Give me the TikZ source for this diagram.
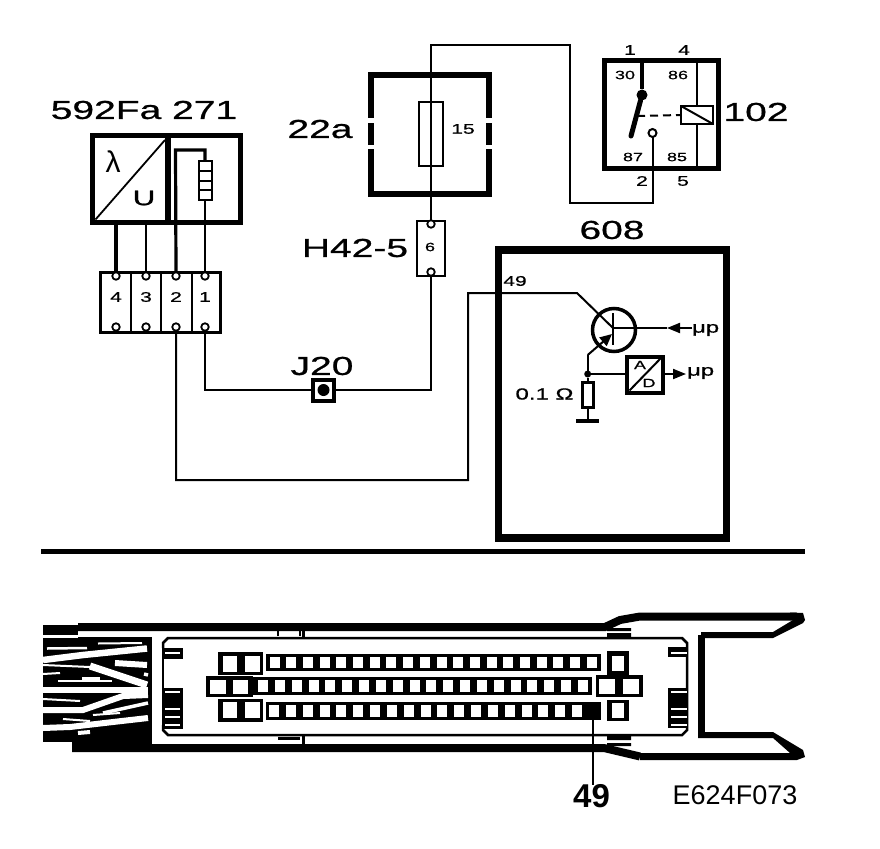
\documentclass[tikz,border=0pt]{standalone}
\usepackage{fontspec}
\setmainfont{Liberation Sans}
\newfontfamily\widefont[FakeStretch=1.5,FakeBold=0.8]{Liberation Sans}
\usetikzlibrary{arrows.meta,positioning}

\begin{document}
\begin{tikzpicture}[
    x=1pt, y=-1pt,
    every node/.style={inner sep=0pt, outer sep=0pt},
    partlabel/.style={font=\widefont\fontsize{26}{26}\selectfont},
    pinlabel/.style={font=\widefont\fontsize{14}{14}\selectfont},
    smalllabel/.style={font=\widefont\fontsize{12}{12}\selectfont},
    heavybox/.style={rectangle, draw, line width=6pt},
    thinbox/.style={rectangle, draw, line width=2pt},
    wire/.style={line width=2pt},
    fatwire/.style={line width=3.2pt},
    pin/.style={circle, draw, fill=white, line width=1.8pt, minimum size=7.5pt},
    arrow/.style={-{Triangle[length=13pt,width=10pt]}, line width=2pt},
    band/.style={line width=8pt},
    streak/.style={white, line width=#1}
]
    \fill[white] (0,0) rectangle (880,848);
    \useasboundingbox (0,0) rectangle (880,848);

    % Lambda probe
    \node[partlabel] (probelabel) at (144,110) {592Fa 271};
    \node[rectangle, draw, line width=5.5pt, minimum width=148pt, minimum height=87pt] (probe) at (166.5,179) {};
    \coordinate (probesplit) at (168,179);
    \draw[line width=5.5pt] (probesplit |- probe.north) -- (probesplit |- probe.south);
    \draw[line width=1.8pt] (probe.south west) ++(3,-3) -- (165,140);
    \node[font=\fontsize{30}{30}\selectfont] (lambda) at (113,162) {λ};
    \node[font=\widefont\fontsize{21}{21}\selectfont] (ulabel) at (144,198) {U};

    % Heater
    \node[thinbox, minimum width=13pt, minimum height=39pt] (heater) at (205,180.5) {};
    \foreach \y in {171,180.5,190} {
        \draw[wire] (heater.west |- 0,\y) -- (heater.east |- 0,\y);
    }

    % Connector block
    \node[rectangle, draw, line width=2.2pt, minimum width=120pt, minimum height=60pt] (block) at (160.5,302.5) {};
    \foreach \n/\x in {4/116,3/146,2/176,1/205} {
        \node[pin] (ptop\n) at (\x,276) {};
        \node[pin] (pbot\n) at (\x,327) {};
        \node[pinlabel] (cell\n) at (\x,297) {\n};
    }
    \foreach \x in {131,161,192} {
        \draw[wire] (\x,272) -- (\x,332);
    }

    % Fuse box
    \node[partlabel] (fuselabel) at (320,129) {22a};
    \node[heavybox, minimum width=118pt, minimum height=119pt] (fusebox) at (430,134.5) {};
    \fill[white] (360,118) rectangle (376,123);
    \fill[white] (360,145) rectangle (376,149);
    \fill[white] (484,118) rectangle (500,123);
    \fill[white] (484,145) rectangle (500,149);
    \node[thinbox, minimum width=24pt, minimum height=63pt] (fuse) at (430.5,134) {};
    \node[pinlabel] (fuseno) at (463,129) {15};

    % Connector H42-5
    \node[partlabel] (hlabel) at (355,248) {H42-5};
    \node[thinbox, minimum width=28pt, minimum height=55pt] (hconn) at (431,248) {};
    \node[pin] (ptop6) at (431,224) {};
    \node[pin] (pbot6) at (431,272) {};
    \node[smalllabel] (hno) at (430,247) {6};

    % Junction J20
    \node[partlabel] (jlabel) at (322,366) {J20};
    \node[rectangle, draw, line width=4pt, minimum width=21pt, minimum height=21pt] (j20) at (323.5,390) {};
    \node[circle, fill, minimum size=12pt] (j20dot) at (j20) {};

    % Relay
    \node[rectangle, draw, line width=5pt, minimum width=114pt, minimum height=107pt] (relay) at (661,114.5) {};
    \node[partlabel] (relaylabel) at (756,112) {102};
    \node[pinlabel] (r1) at (630,50) {1};
    \node[pinlabel] (r4) at (684,50) {4};
    \node[pinlabel] (r2) at (642,181) {2};
    \node[pinlabel] (r5) at (683,181) {5};
    \node[smalllabel] (r30) at (625,75) {30};
    \node[smalllabel] (r86) at (678,75) {86};
    \node[smalllabel] (r87) at (633,157) {87};
    \node[smalllabel] (r85) at (677,157) {85};
    \node[circle, fill, minimum size=11pt] (pivot) at (642,95) {};
    \coordinate (armend) at (631,136);
    \node[circle, draw, fill=white, line width=2pt, minimum size=8pt] (contact) at (652.5,133) {};
    \node[rectangle, draw, line width=2pt, minimum width=32pt, minimum height=18pt] (coil) at (697,115) {};
    \coordinate (armmid) at (637,116);

    % Lines of the relay
    \draw[fatwire] (pivot) -- (pivot |- relay.north);
    \draw[line width=5pt, line cap=round] (pivot) -- (armend);
    \draw[wire, dashed, dash pattern=on 8pt off 5pt] (armmid) -- (coil.west);
    \draw[wire] (coil.north west) -- (coil.south east);
    \draw[wire] (coil.north) -- (coil.north |- relay.north);
    \draw[wire] (coil.south) -- (coil.south |- relay.south);

    % ECU
    \node[partlabel] (eculabel) at (612,230) {608};
    \node[rectangle, draw, line width=7.5pt, minimum width=228pt, minimum height=288pt] (ecu) at (612.5,394) {};
    \node[pinlabel] (ecupin) at (515,281) {49};
    \node[circle, draw, line width=3.5pt, minimum size=43pt] (trans) at (614,330) {};
    \draw[line width=1.8pt] (613,313) coordinate (bartop) -- (613,345) coordinate (barbot);
    \coordinate (collector) at (613,328);
    \coordinate (emitter) at (612,334);
    \coordinate (emknee) at (587.7,355);
    \node[circle, fill, minimum size=7pt] (sense) at (587.7,374) {};
    \node[rectangle, draw, line width=2.6pt, minimum width=11pt, minimum height=25pt] (shunt) at (587.7,395) {};
    \node[fill, minimum width=23pt, minimum height=4pt] (gnd) at (587.7,421) {};
    \node[font=\widefont\fontsize{16}{16}\selectfont] (ohm) at (544.5,394) {0.1 Ω};
    \node[rectangle, draw, line width=4pt, minimum width=36pt, minimum height=36pt] (adc) at (644.5,374.5) {};
    \draw[wire] (adc.south west) ++(3,-2) -- (661,358);
    \node[smalllabel] (adca) at (640,365) {A};
    \node[smalllabel] (adcd) at (649,383) {D};
    \node[font=\widefont\fontsize{16}{16}\selectfont, anchor=west] (muin) at (692,330) {μp};
    \node[font=\widefont\fontsize{16}{16}\selectfont, anchor=west] (muout) at (687,373) {μp};
    \coordinate (inarrow) at (667,328);
    \coordinate (outarrow) at (686,374);

    % Lines of the ECU
    \draw[arrow] (muin.west |- inarrow) -- (inarrow);
    \draw[wire] (inarrow) -- (collector);
    \draw[arrow] (adc.east |- outarrow) -- (outarrow);
    \draw[arrow, -{Triangle[length=12pt,width=11pt]}] (emknee) -- (emitter);
    \draw[wire] (emknee) -- (sense);
    \draw[wire] (sense) -- (adc.west |- sense);
    \draw[wire] (sense) -- (shunt.north);
    \draw[wire] (shunt.south) -- (gnd.north);

    % Wires between the parts
    \draw[fatwire] (ptop4.north) -- (ptop4.north |- probe.south);
    \draw[wire] (ptop3.north) -- (ptop3.north |- probe.south);
    \draw[fatwire] (ptop2.north) -- (175.5,150) coordinate (heatbend) -- (205,150) coordinate (heattop) -- (heater.north);
    \draw[wire] (heater.south) -- (ptop1.north);
    \draw[wire] (pbot1.south) |- (j20.west);
    \draw[wire] (j20.east) -| (pbot6.south);
    \coordinate (relaytop) at (570,45);
    \coordinate (relaybot) at (570,203);
    \draw[wire] (ptop6.north) |- (relaytop) -- (relaybot) -| (contact.south);
    \coordinate (ecubot) at (468,480);
    \coordinate (ecutop) at (468,293);
    \coordinate (ecuknee) at (577,293);
    \draw[wire] (pbot2.south) |- (ecubot) -- (ecutop) -- (ecuknee) -- (collector);

    % Separator
    \draw[line width=5pt] (41,551) coordinate (sepleft) -- (805,551) coordinate (sepright);

    % Plug: shell
    \draw[band] (78,627) -- (605,627) -- (620,620) -- (640,616.5) -- (797,616.5);
    \fill (790,612.5) -- (803,613) -- (805,620) -- (803,623) -- (773,638) -- (701,638) -- (701,632) -- (773,632) -- (793,620) -- cycle;
    \draw[line width=7pt] (701,635) -- (701,735);
    \fill (698,732) -- (773,732) -- (803,750) -- (805,757) -- (797,760) -- (640,760) -- (640,753) -- (790,753) -- (773,738) -- (698,738) -- cycle;
    \draw[band] (72,748) -- (604,748) -- (640,756.5);
    \draw[line width=2.5pt] (163,648) -- (163,643) -- (168,638) -- (682,638) -- (687,643) -- (687,730) -- (682,735) -- (168,735) -- (163,730) -- (163,725);
    \draw[line width=2.5pt] (163,648) -- (163,725);

    % Plug: tabs
    \draw[line width=2pt] (278,636) -- (278,630) (300,636) -- (300,630);
    \draw[line width=3pt] (303,630) -- (303,637);
    \fill (607,628) rectangle (631,631) (607,633) rectangle (631,637);
    \fill (607,736) rectangle (631,740) (607,743) rectangle (631,746);
    \fill (278,737) rectangle (300,740);
    \draw[line width=3pt] (303,736) -- (303,745);

    % Plug: combs
    \fill (163,648) rectangle (183,659);
    \fill (163,688) rectangle (183,729);
    \fill (668,647) rectangle (687,657);
    \fill (668,688) rectangle (687,728);
    \foreach \y in {653,692,709,717,725} {
        \draw[white, line width=1.3pt] (165,\y) -- (180,\y);
        \draw[white, line width=1.3pt] (671,\y) -- (687,\y);
    }

    % Plug: big pins
    \fill (218,652) rectangle (263,675);
    \fill (206,676) rectangle (253,697);
    \fill (218,699) rectangle (263,722);
    \fill (607,651) rectangle (629,675);
    \fill (596,675) rectangle (643,697);
    \fill (607,700) rectangle (629,721);
    \foreach \a/\b/\c/\d in {223/656/237/672, 245/656/260/672, 210/680/226/694, 233/680/248/694, 223/702/237/718, 245/702/260/718, 612/656/624/671, 599/679/615/694, 623/679/639/694, 612/703/624/718} {
        \fill[white] (\a,\b) rectangle (\c,\d);
    }

    % Plug: rows of pins
    \fill (266,654) rectangle (601,671);
    \fill (253,677) rectangle (592,695);
    \fill (266,702) rectangle (601,720);
    \foreach \i in {0,...,19} {
        \fill[white] (269.5+16.7*\i,657) rectangle (279.5+16.7*\i,668);
        \fill[white] (258+16.84*\i,680) rectangle (268+16.84*\i,692);
    }
    \foreach \i in {0,...,18} {
        \fill[white] (269+16.84*\i,705) rectangle (279+16.84*\i,717);
    }

    % Plug: wires
    \fill (43,625) rectangle (78,635);
    \fill (43,638) rectangle (152,740);
    \fill (78,637) rectangle (152,640);
    \fill (72,738) rectangle (152,744);
    \fill (43,733) rectangle (72,742);
    \draw[streak=2.5pt] (47,648.5) -- (87,648);
    \draw[streak=2pt] (98,643.5) -- (142,643);
    \draw[streak=6.5pt] (43,660) -- (83,655) -- (147,648.5);
    \draw[streak=2pt] (43,665) -- (90,667);
    \draw[streak=7pt] (90,666) -- (123,677) -- (147,685);
    \draw[streak=6pt] (115,663) -- (147,665);
    \draw[streak=3.5pt] (144,674) -- (148,675);
    \draw[streak=2pt] (43,674) -- (60,673);
    \draw[streak=2pt] (58,681) -- (112,681);
    \draw[streak=4.5pt] (82,679.5) -- (100,679.5);
    \draw[streak=6.5pt] (43,690) -- (148,690);
    \draw[streak=2pt] (43,699) -- (80,701);
    \draw[streak=6pt] (43,710) -- (83,710) -- (123,696) -- (148,695);
    \draw[streak=3.5pt] (103,713) -- (148,703);
    \draw[streak=2pt] (93,715) -- (120,713);
    \draw[streak=2pt] (63,719) -- (90,721);
    \draw[streak=6pt] (43,728) -- (70,727) -- (113,722) -- (148,718);
    \draw[streak=4pt] (78,733) -- (90,732);

    % Pin 49
    \coordinate (pinfortynine) at (593,720);
    \node[font=\bfseries\fontsize{33}{33}\selectfont] (pinlabel) at (591.5,796.5) {49};
    \draw[line width=2.5pt] (pinfortynine) -- (pinlabel.north -| pinfortynine);

    % Drawing number
    \node[font=\fontsize{27}{27}\selectfont] (drawno) at (735,795) {E624F073};
\end{tikzpicture}
\end{document}
